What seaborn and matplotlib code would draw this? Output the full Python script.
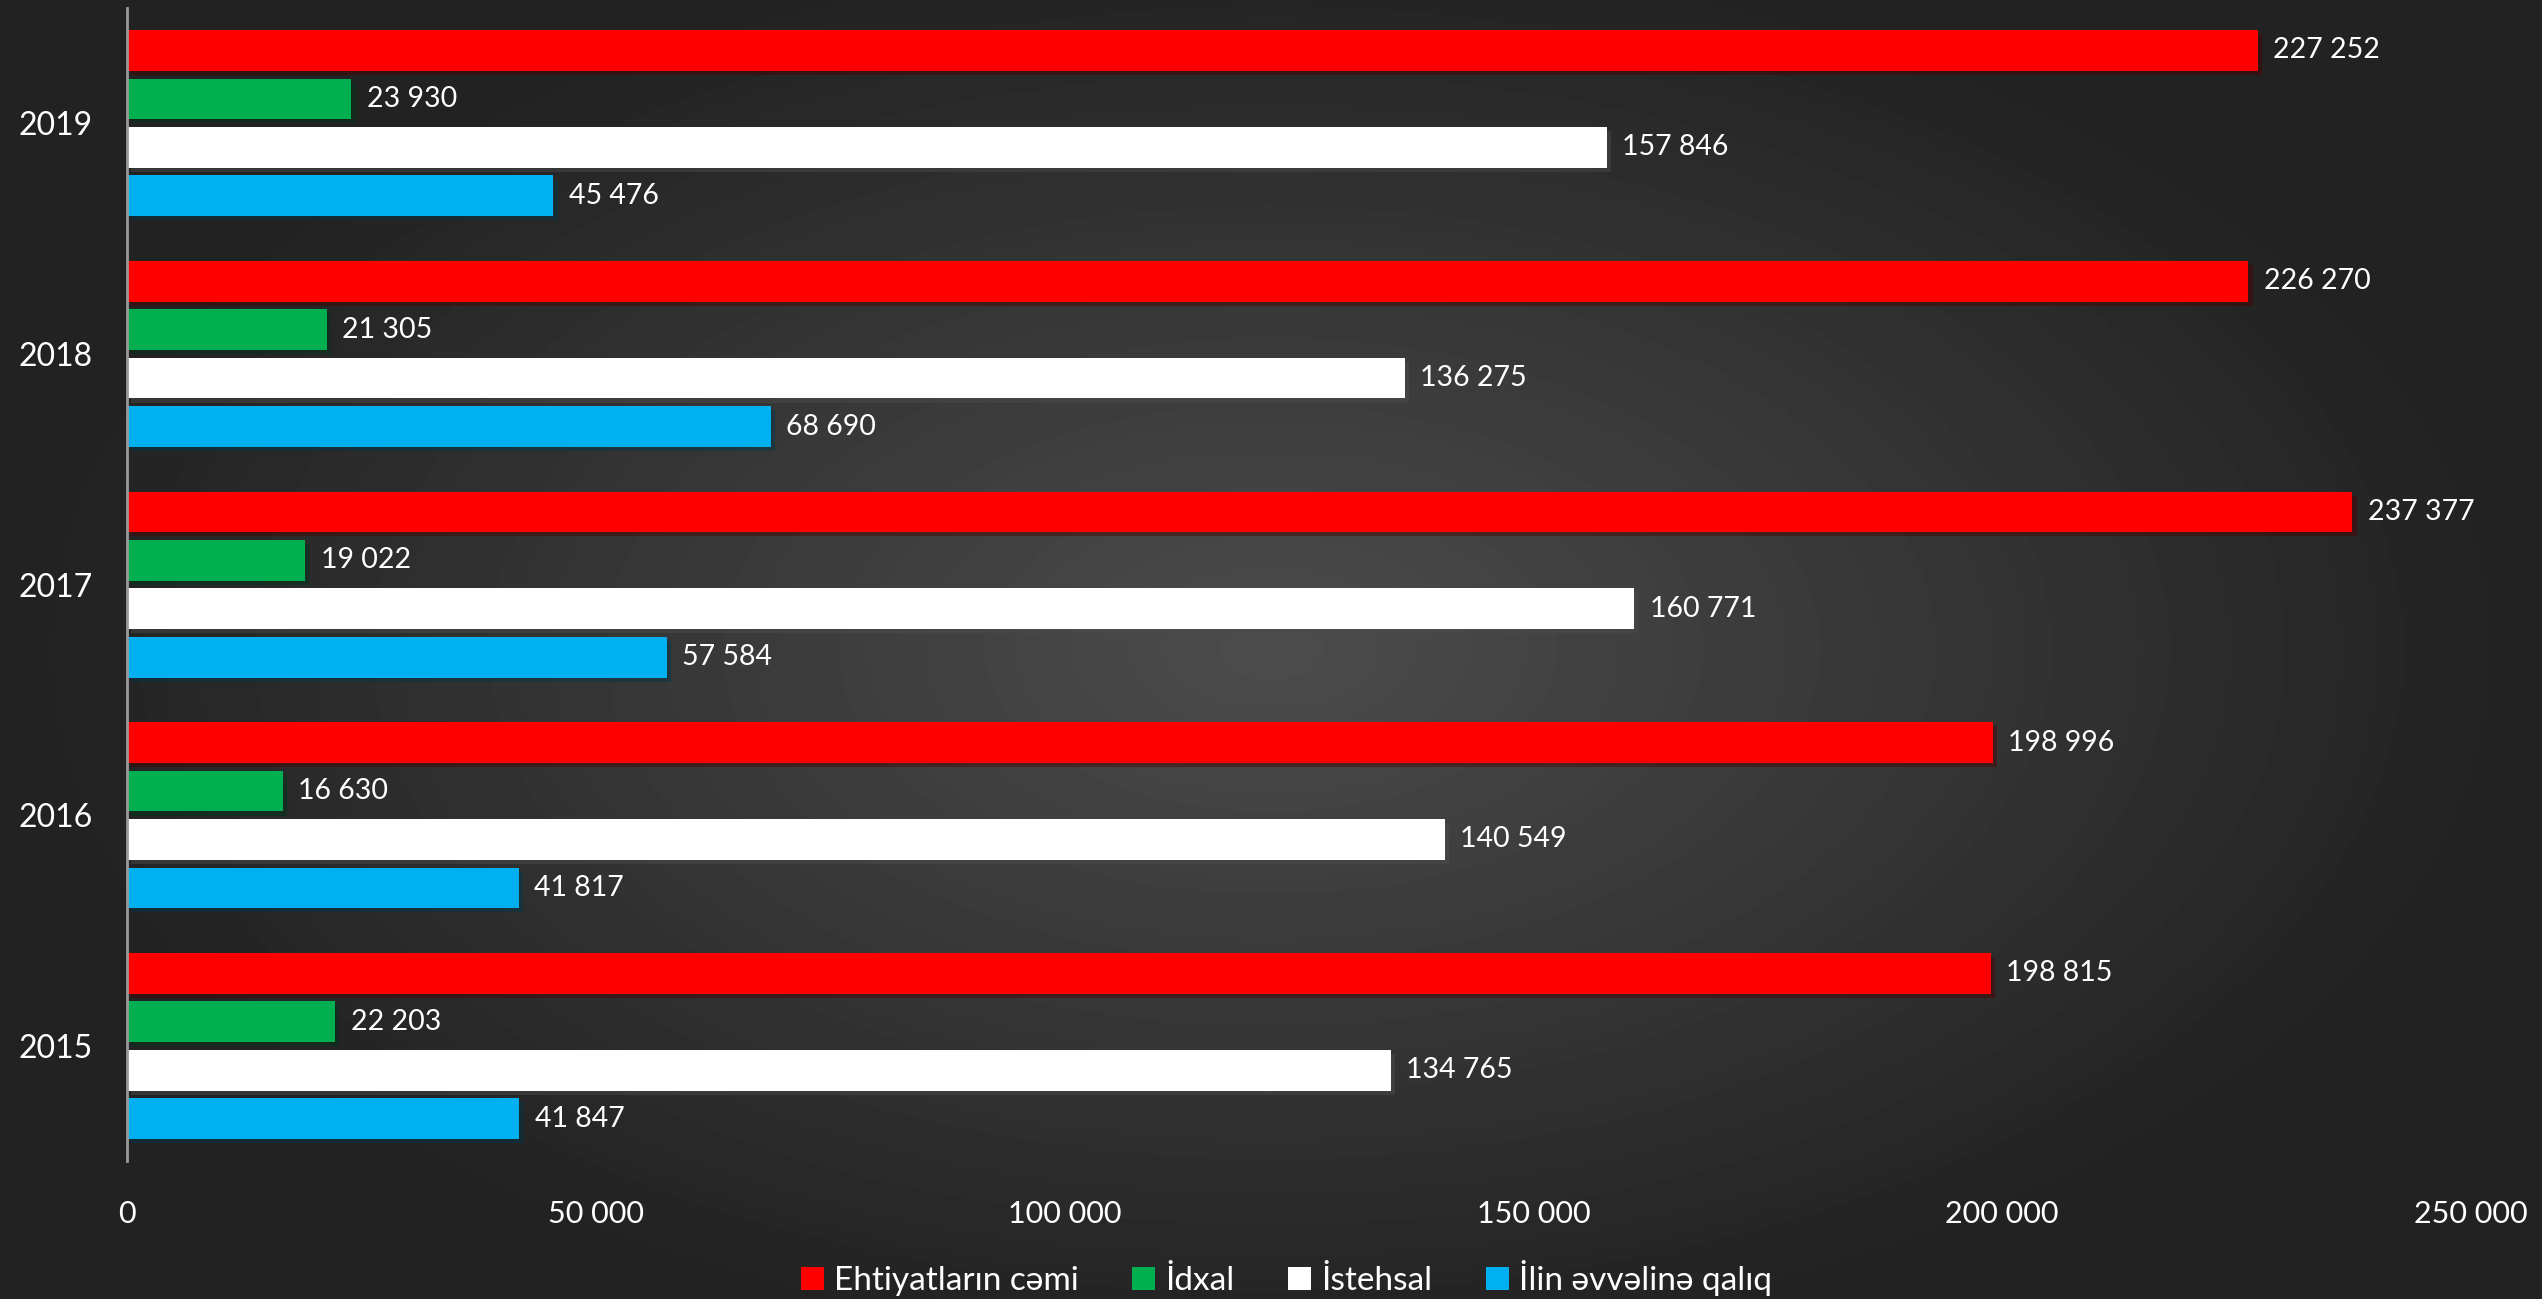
import numpy as np
import pandas as pd
import seaborn as sns
import matplotlib.pyplot as plt
import matplotlib.patheffects as pe
from matplotlib.patches import Patch

years = ['2019', '2018', '2017', '2016', '2015']
series = ['Ehtiyatların cəmi', 'İdxal', 'İstehsal', 'İlin əvvəlinə qalıq']
total = [227252, 226270, 237377, 198996, 198815]
imports = [23930, 21305, 19022, 16630, 22203]
production = [157846, 136275, 160771, 140549, 134765]
carryover = [45476, 68690, 57584, 41817, 41847]
colors = ['#FF0000', '#00B050', '#FFFFFF', '#00B0F0']
xticks = [0, 50000, 100000, 150000, 200000, 250000]

values = [total, imports, production, carryover]
rows = []
for name, vals in zip(series, values):
    for year, v in zip(years, vals):
        rows.append({'year': year, 'series': name, 'value': v})
df = pd.DataFrame(rows)

sns.set_theme(style='dark')
plt.rcParams['font.family'] = ['Lato', 'DejaVu Sans']

fig = plt.figure(figsize=(25.42, 12.99), dpi=100)

# radial gradient background
bg = fig.add_axes([0, 0, 1, 1], zorder=-10)
yy, xx = np.mgrid[0:1:400j, 0:1:800j]
r = np.sqrt(((xx - 0.5) * 1.0) ** 2 + ((yy - 0.5) * 0.9) ** 2)
shade = np.clip(0.30 - 0.34 * r, 0.135, 0.30)
bg.imshow(shade, cmap='gray', vmin=0, vmax=1, aspect='auto', extent=[0, 1, 0, 1])
bg.set_axis_off()

ax = fig.add_axes([0.05, 0.106, 0.922, 0.888])
ax.set_facecolor('none')

sns.barplot(data=df, y='year', x='value', hue='series', order=years,
            hue_order=series, palette=colors, orient='h', width=0.84, gap=0.16,
            saturation=1, legend=False, linewidth=0, edgecolor='none', ax=ax)

for cont, vals in zip(ax.containers, values):
    for bar in cont:
        bar.set_path_effects([pe.SimplePatchShadow(offset=(3, -3), alpha=0.45), pe.Normal()])
    ax.bar_label(cont, labels=[f'{v:,}'.replace(',', ' ') for v in vals],
                 padding=11, color='white', fontsize=20.5)

ax.set_xlim(0, 250000)
ax.set_ylim(4.5, -0.5)
ax.set_xticks(xticks)
ax.set_xticklabels([f'{t:,}'.replace(',', ' ') for t in xticks])
ax.tick_params(axis='x', length=0, pad=28, labelsize=22, colors='white')
ax.tick_params(axis='y', length=0, pad=25, labelsize=23, colors='white')
ax.set_xlabel('')
ax.set_ylabel('')
ax.grid(False)
for s in ['top', 'right', 'bottom']:
    ax.spines[s].set_visible(False)
ax.spines['left'].set_color('#9a9a9a')
ax.spines['left'].set_linewidth(2)

handles = [Patch(facecolor=c, edgecolor='none') for c in colors]
fig.legend(handles, series, loc='center', bbox_to_anchor=(0.506, 0.016), ncol=4,
           frameon=False, fontsize=24, labelcolor='white', handlelength=0.7,
           handleheight=0.7, handletextpad=0.3, columnspacing=1.6)

fig.savefig('out.png', dpi=100)
